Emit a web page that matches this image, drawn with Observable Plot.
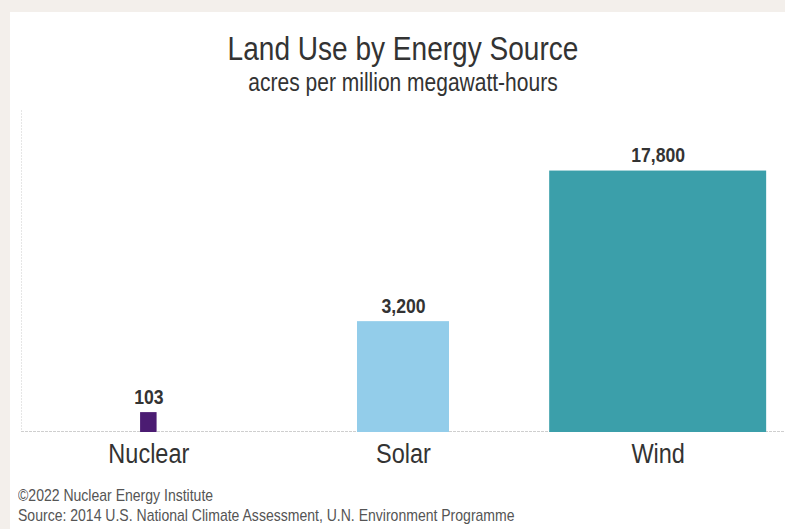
<!DOCTYPE html>
<html>
<head>
<meta charset="utf-8">
<script src="https://cdn.jsdelivr.net/npm/d3@7"></script>
<script src="https://cdn.jsdelivr.net/npm/@observablehq/plot@0.6"></script>
<style>
  html, body { margin: 0; padding: 0; background: #f3efeb; }
  #wrap { position: relative; width: 785px; height: 529px; overflow: hidden; background: #f3efeb; font-family: "Liberation Sans", Arial, sans-serif; }
  #panel { position: absolute; left: 10px; top: 12px; right: 0; bottom: 0; background: #ffffff; }
  .title { position: absolute; left: 0; width: 806px; text-align: center; color: #333; white-space: nowrap; transform-origin: 50% 50%; }
  #t1 { top: 32px; font-size: 33px; line-height: 33px; transform: scaleX(0.85); }
  #t2 { top: 70px; font-size: 25px; line-height: 25px; transform: scaleX(0.84); }
  .foot { position: absolute; left: 18px; font-size: 17px; line-height: 17px; color: #555; white-space: nowrap; transform-origin: 0 50%; transform: scaleX(0.825); }
  #f1 { top: 487px; }
  #f2 { top: 507px; }
  #chart { position: absolute; left: 0; top: 100px; }
</style>
</head>
<body>
<div id="wrap">
  <div id="panel"></div>
  <div class="title" id="t1">Land Use by Energy Source</div>
  <div class="title" id="t2">acres per million megawatt-hours</div>
  <div id="chart"></div>
  <div class="foot" id="f1">©2022 Nuclear Energy Institute</div>
  <div class="foot" id="f2">Source: 2014 U.S. National Climate Assessment, U.N. Environment Programme</div>
</div>
<script>
const categories = ["Nuclear", "Solar", "Wind"];
const values = [103, 3200, 17800];
const valueLabels = ["103", "3,200", "17,800"];
const colors = ["#4b1c72", "#93cdea", "#3b9faa"];

const maxValue = d3.max(values);
const widestFraction = 0.852; // share of a category slot used by the largest bar
const data = categories.map((c, i) => {
  const hw = widestFraction * Math.sqrt(values[i] / maxValue) / 2;
  return {category: c, i, value: values[i], label: valueLabels[i], x1: i - hw, x2: i + hw};
});

const font = '"Liberation Sans", Arial, sans-serif';

const chart = Plot.plot({
  width: 785,
  height: 380,
  marginLeft: 21,
  marginRight: 0,
  marginTop: 10,
  marginBottom: 48,
  style: {background: "transparent", fontFamily: font, overflow: "visible"},
  x: {type: "linear", domain: [-0.5, categories.length - 0.5], axis: null},
  y: {type: "sqrt", domain: [0, 27000], axis: null},
  color: {domain: categories, range: colors},
  marks: [
    Plot.ruleX([-0.5], {stroke: "#e6e6e6", strokeDasharray: "2,1"}),
    Plot.ruleY([0], {stroke: "#cfcfcf", strokeDasharray: "3,1", dy: -1}),
    Plot.rect(data, {x1: "x1", x2: "x2", y1: 0, y2: "value", fill: "category"}),
    Plot.text(data, {x: "i", y: "value", text: "label", dy: -9, lineAnchor: "bottom", fontSize: 21, fontWeight: "bold", fill: "#333"}),
    Plot.text(data, {x: "i", frameAnchor: "bottom", text: "category", dy: 11, lineAnchor: "top", fontSize: 28, fill: "#333"})
  ]
});

// condensed look: squeeze each label horizontally around its anchor
chart.querySelectorAll("text").forEach(t => {
  const x = +t.getAttribute("x") || 0;
  const tr = t.getAttribute("transform") || "";
  t.setAttribute("transform", `${tr} translate(${x},0) scale(0.84,1) translate(${-x},0)`);
});

document.getElementById("chart").appendChild(chart);
</script>
</body>
</html>
